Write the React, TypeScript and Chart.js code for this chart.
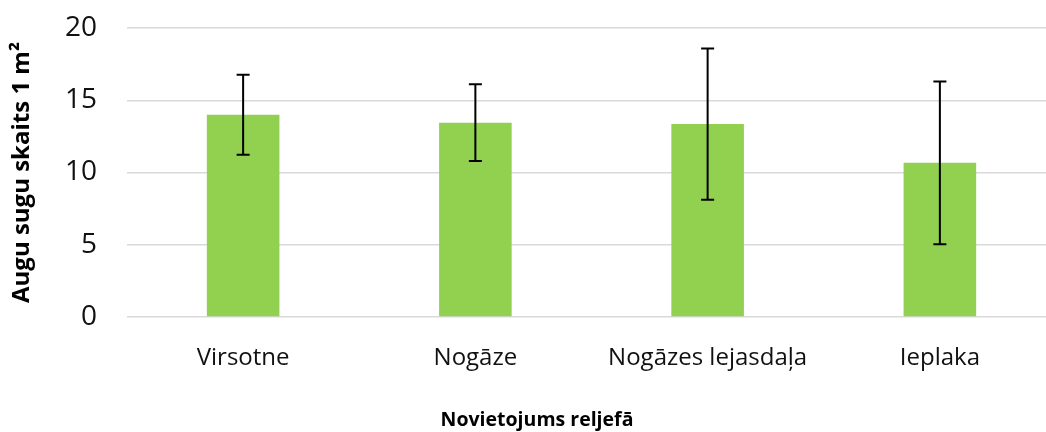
import React, { useEffect, useRef } from "react";
import { Chart, registerables } from "chart.js";

Chart.register(...registerables);

const categories = ["Virsotne", "Nogāze", "Nogāzes lejasdaļa", "Ieplaka"];
const meanValues = [14.0, 13.45, 13.35, 10.67];
const errorValues = [2.77, 2.65, 5.23, 5.63];
const yTicks = [0, 5, 10, 15, 20];

const FONT = "'Open Sans', 'DejaVu Sans', sans-serif";

const errorBarPlugin = {
  id: "errorBars",
  afterDatasetsDraw(chart: any) {
    const meta = chart.getDatasetMeta(0);
    const yScale = chart.scales.y;
    const ctx = chart.ctx;
    ctx.save();
    ctx.strokeStyle = "#000000";
    ctx.lineWidth = 2;
    meta.data.forEach((bar: any, i: number) => {
      const x = bar.x;
      const top = yScale.getPixelForValue(meanValues[i] + errorValues[i]);
      const bot = yScale.getPixelForValue(meanValues[i] - errorValues[i]);
      const cap = 6.5;
      ctx.beginPath();
      ctx.moveTo(x, top);
      ctx.lineTo(x, bot);
      ctx.moveTo(x - cap, top);
      ctx.lineTo(x + cap, top);
      ctx.moveTo(x - cap, bot);
      ctx.lineTo(x + cap, bot);
      ctx.stroke();
    });
    ctx.restore();
  },
};

export default function App() {
  const ref = useRef<HTMLCanvasElement | null>(null);
  useEffect(() => {
    document.body.style.margin = "0";
    if (!ref.current) return;
    const chart = new Chart(ref.current, {
      type: "bar",
      data: {
        labels: categories,
        datasets: [
          {
            data: meanValues,
            backgroundColor: "#92D050",
            borderWidth: 0,
            barPercentage: 0.3125,
            categoryPercentage: 1,
          },
        ],
      },
      options: {
        responsive: false,
        animation: false,
        layout: { padding: { left: 18, right: 4, top: 28, bottom: 0 } },
        plugins: {
          legend: { display: false },
          tooltip: { enabled: false },
          title: {
            display: true,
            position: "bottom",
            text: "Novietojums reljefā",
            color: "#000000",
            font: { family: FONT, size: 19.5, weight: "bold" },
            padding: { top: 0, bottom: 0 },
          },
        },
        scales: {
          x: {
            grid: { display: false },
            border: { display: false },
            ticks: {
              color: "#111111",
              font: { family: FONT, size: 24 },
              padding: 19,
              maxRotation: 0,
              autoSkip: false,
            },
            afterFit(scale: any) {
              scale.height = 91.6;
              scale.paddingLeft = 0;
              scale.paddingRight = 0;
            },
          },
          y: {
            min: 0,
            max: 20,
            afterBuildTicks(scale: any) {
              scale.ticks = yTicks.map((v) => ({ value: v }));
            },
            grid: { color: "#d9d9d9", lineWidth: 1.5, drawTicks: false },
            border: { display: false },
            ticks: {
              color: "#111111",
              font: { family: FONT, size: 28 },
              padding: 30,
            },
            title: {
              display: true,
              text: "Augu sugu skaits 1 m²",
              color: "#000000",
              font: { family: FONT, size: 24, weight: "bold" },
              padding: { top: -10.4, bottom: 0 },
            },
            afterFit(scale: any) {
              scale.width = 109;
              scale.paddingTop = 0;
              scale.paddingBottom = 0;
            },
          },
        },
      },
      plugins: [errorBarPlugin],
    } as any);
    return () => chart.destroy();
  }, []);
  return (
    <div
      style={{
        position: "fixed",
        left: 0,
        top: 0,
        width: 1046,
        height: 432,
        overflow: "hidden",
        background: "#ffffff",
      }}
    >
      <canvas ref={ref} width={1060} height={432} style={{ display: "block" }} />
    </div>
  );
}
